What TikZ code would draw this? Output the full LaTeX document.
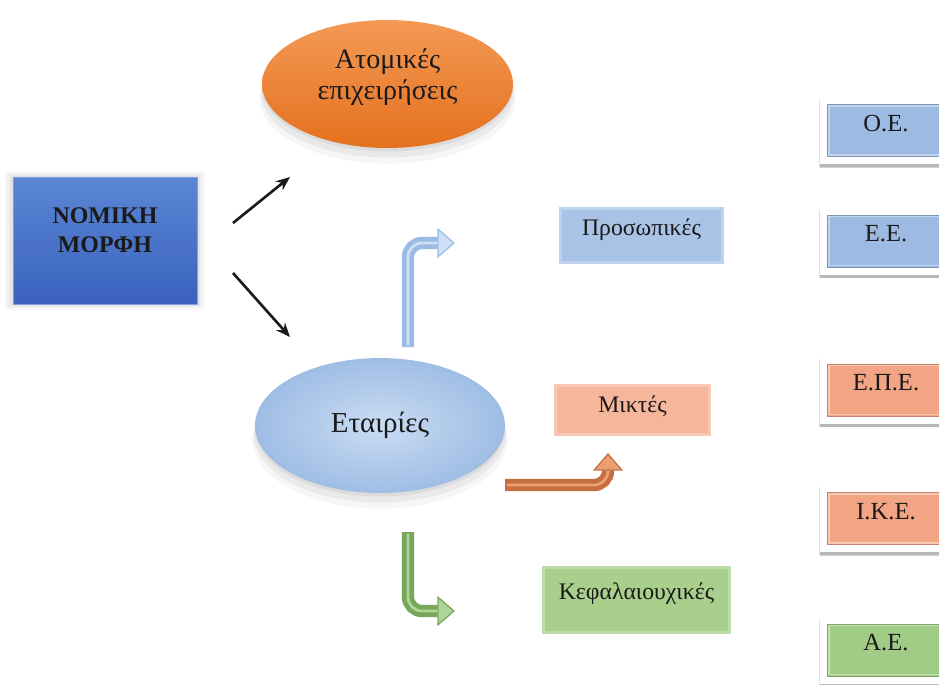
\documentclass[tikz,border=0pt]{standalone}
\usepackage{fontspec}
\setmainfont{Liberation Serif}
\usetikzlibrary{arrows.meta, positioning, shapes.geometric, shadows}

\definecolor{nomTop}{HTML}{5B86D4}
\definecolor{nomBot}{HTML}{3A62BE}
\definecolor{atoTop}{HTML}{F49A55}
\definecolor{atoBot}{HTML}{E4701E}
\definecolor{etaIn}{HTML}{CADCF3}
\definecolor{etaOut}{HTML}{9FBDE4}
\definecolor{prosFill}{HTML}{A9C3E7}
\definecolor{mikFill}{HTML}{F5B69B}
\definecolor{kefFill}{HTML}{A8D08C}
\definecolor{rbBlue}{HTML}{9CBAE2}
\definecolor{rbOrange}{HTML}{F3A484}
\definecolor{rbGreen}{HTML}{A0CC85}
\definecolor{tubeBlue}{HTML}{9ABBE4}
\definecolor{tubeBlueHi}{HTML}{CFE0F4}
\definecolor{tubeOr}{HTML}{C46E42}
\definecolor{tubeOrHi}{HTML}{EE9F72}
\definecolor{tubeGr}{HTML}{78A65A}
\definecolor{tubeGrHi}{HTML}{AED497}
\definecolor{ink}{HTML}{1A1A1A}

\tikzset{
  glow/.style      = {general shadow={shadow scale=1.09, fill=black, opacity=.025},
                      general shadow={shadow scale=1.06, fill=black, opacity=.035},
                      general shadow={shadow scale=1.03, fill=black, opacity=.05}},
  lowshadow/.style = {general shadow={shadow yshift=-8pt, shadow scale=1.02, fill=black, opacity=.035},
                      general shadow={shadow yshift=-5pt, shadow scale=1.01, fill=black, opacity=.05},
                      general shadow={shadow yshift=-2pt, fill=black, opacity=.06}},
  lift/.style      = {text height=9.5pt, text depth=#1},
  softbox/.style   = {rectangle, fill=#1, draw=#1!75, line width=1.4pt, text=ink,
                      font=\fontsize{13.5}{16}\selectfont},
  rbox/.style      = {rectangle, fill=white, minimum width=2.64cm, minimum height=1.34cm,
                      text=ink, font=\fontsize{14}{16.5}\selectfont, lift=8.5pt,
                      general shadow={shadow yshift=-1.5pt, shadow scale=1.02, fill=black, opacity=.12},
                      drop shadow={shadow xshift=0pt, shadow yshift=-2pt, fill=black, opacity=.18},
                      path picture={
                        \fill[#1] ([shift={(4pt,-4pt)}]path picture bounding box.north west)
                          rectangle ([shift={(-4pt,4pt)}]path picture bounding box.south east);
                        \draw[#1!80!black, line width=.5pt]
                          ([shift={(4.3pt,-4.3pt)}]path picture bounding box.north west)
                          rectangle ([shift={(-4.3pt,4.3pt)}]path picture bounding box.south east);
                        \draw[#1!60!white, line width=.8pt]
                          ([shift={(5.2pt,-5.2pt)}]path picture bounding box.north west)
                          rectangle ([shift={(-5.2pt,5.2pt)}]path picture bounding box.south east);}},
  tube/.style 2 args = {draw=#1, line width=7pt, rounded corners=8pt,
                      -{Triangle[length=10pt, width=17pt, line width=.7pt, fill=#2]}},
  tubehi/.style    = {draw=#1, line width=1.6pt, rounded corners=8pt,
                      shorten <=1pt, shorten >=10pt}
}

\begin{document}
\begin{tikzpicture}[x=0.02cm, y=-0.02cm,
    nbox/.style={rectangle, top color=nomTop, bottom color=nomBot, draw=nomTop!80!white,
                 minimum width=3.68cm, minimum height=2.54cm, text=ink,
                 font=\fontsize{13.6}{16.3}\selectfont\bfseries, glow},
    oval/.style={ellipse, inner sep=0pt, text=ink},
    blk/.style={-{Stealth[length=8pt, width=6.5pt]}, line width=1.5pt, ink}
  ]
    \useasboundingbox (0,0) rectangle (939,684);

    % main shapes
    \node[nbox, text depth=14pt] (nomiki) at (105,240.5)
        {\begin{tabular}[b]{@{}c@{}}ΝΟΜΙΚΗ\\ΜΟΡΦΗ\end{tabular}};
    \node[oval, minimum width=5.02cm, minimum height=2.56cm, top color=atoTop, bottom color=atoBot,
          font=\fontsize{16}{18}\selectfont, text depth=12.5pt, lowshadow] (atomikes) at (387.5,84)
        {\begin{tabular}[b]{@{}c@{}}Ατομικές\\επιχειρήσεις\end{tabular}};
    \node[oval, minimum width=5.0cm, minimum height=2.7cm, inner color=etaIn, outer color=etaOut,
          font=\fontsize{16.5}{19}\selectfont, lowshadow] (etairies) at (380,425.5) {Εταιρίες};

    \node[softbox=prosFill, minimum width=3.24cm, minimum height=1.08cm, lift=9.5pt]
        (prosopikes) at (641.5,235.5) {Προσωπικές};
    \node[softbox=mikFill, minimum width=3.08cm, minimum height=0.98cm, lift=7.1pt]
        (miktes) at (632.5,410) {Μικτές};
    \node[softbox=kefFill, minimum width=3.72cm, minimum height=1.30cm, lift=10.5pt]
        (kefal) at (636.5,600) {Κεφαλαιουχικές};

    % company types
    \node[rbox=rbBlue]   (oe)  at (886,130.5) {Ο.Ε.};
    \node[rbox=rbBlue]   (ee)  at (886,241)   {Ε.Ε.};
    \node[rbox=rbOrange] (epe) at (886,390)   {Ε.Π.Ε.};
    \node[rbox=rbOrange] (ike) at (886,518.5) {Ι.Κ.Ε.};
    \node[rbox=rbGreen]  (ae)  at (886,650)   {Α.Ε.};

    % arrows
    \coordinate (up0) at (233,223); \coordinate (up1) at (290,177);
    \coordinate (dn0) at (233,273); \coordinate (dn1) at (290,337);
    \draw[blk] (up0) -- (up1);
    \draw[blk] (dn0) -- (dn1);

    \coordinate (pb0) at (408,347); \coordinate (pb1) at (455,243);
    \draw[tube={tubeBlue}{tubeBlueHi}] (pb0) |- (pb1);
    \draw[tubehi=tubeBlueHi] (pb0) |- (pb1);
    \coordinate (mb0) at (505,485); \coordinate (mb1) at (608,453);
    \draw[tube={tubeOr}{tubeOrHi}] (mb0) -| (mb1);
    \draw[tubehi=tubeOrHi] (mb0) -| (mb1);
    \coordinate (kb0) at (408,532); \coordinate (kb1) at (455,611);
    \draw[tube={tubeGr}{tubeGrHi}] (kb0) |- (kb1);
    \draw[tubehi=tubeGrHi] (kb0) |- (kb1);
\end{tikzpicture}
\end{document}
